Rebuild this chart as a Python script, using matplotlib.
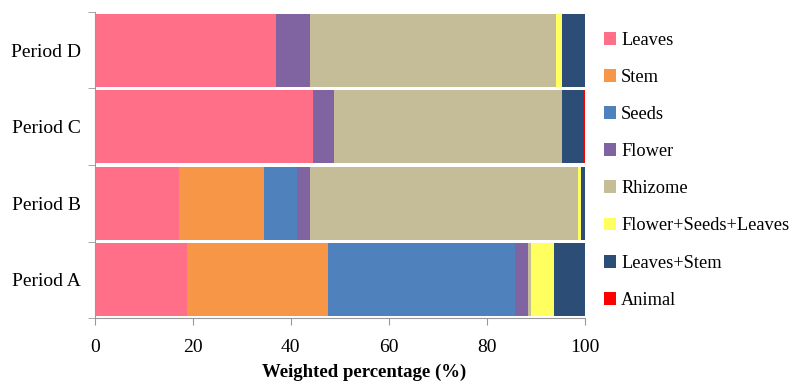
import numpy as np
from matplotlib import pyplot as plt

periods = ["Period A", "Period B", "Period C", "Period D"]
parts = ["Leaves", "Stem", "Seeds", "Flower", "Rhizome",
         "Flower+Seeds+Leaves", "Leaves+Stem", "Animal"]
colors = ["#FF7088", "#F79646", "#4F81BD", "#8064A2", "#C4BD97",
          "#FFFF5F", "#2C4D75", "#FF0000"]

# weighted percentage per part, order: A, B, C, D
leaves = [18.9, 17.1, 44.6, 36.9]
stem = [28.7, 17.4, 0.0, 0.0]
seeds = [38.2, 6.8, 0.0, 0.0]
flower = [2.6, 2.6, 4.1, 7.0]
rhizome = [0.5, 54.7, 46.6, 50.2]
flower_seeds_leaves = [4.7, 0.5, 0.0, 1.1]
leaves_stem = [6.4, 0.9, 4.5, 4.8]
animal = [0.0, 0.0, 0.2, 0.0]

series = [leaves, stem, seeds, flower, rhizome,
          flower_seeds_leaves, leaves_stem, animal]

plt.rcParams['font.family'] = ['Liberation Serif', 'DejaVu Serif']

fig = plt.figure(figsize=(7.96, 3.86), dpi=100)
ax = fig.add_axes([0.119, 0.176, 0.616, 0.793])

y = np.arange(len(periods))
left = np.zeros(len(periods))
for name, vals, col in zip(parts, series, colors):
    vals = np.array(vals)
    ax.barh(y, vals, left=left, height=0.955, color=col, label=name)
    left += vals

ax.set_xlim(0, 100)
ax.set_ylim(-0.5, 3.5)
ax.set_xticks(range(0, 101, 20))
ax.set_yticks(y)
ax.set_yticklabels(periods, fontsize=14)
ax.set_yticks(np.arange(-0.5, 4, 1), minor=True)
ax.tick_params(axis='y', which='major', length=0, pad=10)
ax.tick_params(axis='y', which='minor', length=5, color='#999999')
ax.tick_params(axis='x', length=5, color='#999999', labelsize=14, pad=10)
for s in ['top', 'right']:
    ax.spines[s].set_visible(False)
for s in ['left', 'bottom']:
    ax.spines[s].set_color('#999999')
ax.set_xlabel("Weighted percentage (%)", fontsize=13.5, fontweight='bold')
ax.xaxis.set_label_coords(0.549, -0.148)

ax.legend(loc='upper left', bbox_to_anchor=(0.749, 0.937), bbox_transform=fig.transFigure,
          frameon=False, fontsize=13.2, handlelength=0.7, handleheight=0.7,
          handletextpad=0.25, labelspacing=1.1, borderaxespad=0)

fig.savefig("out.png", dpi=100)
